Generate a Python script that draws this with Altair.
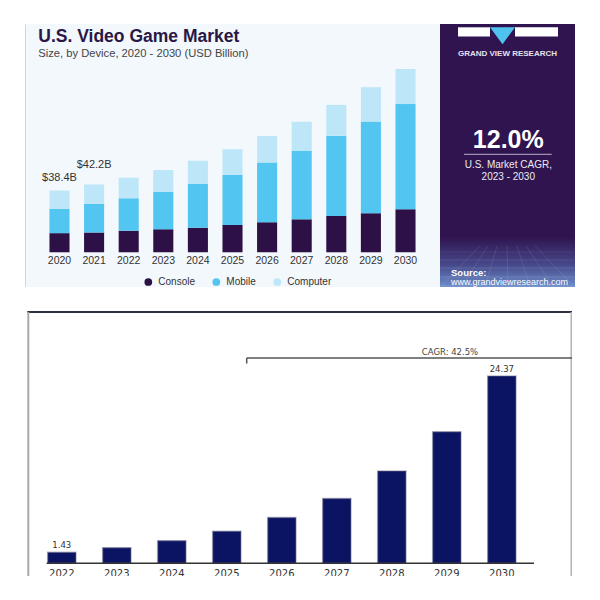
import altair as alt
import pandas as pd

# ---------------- data: top chart (U.S. video game market, USD billion) ----------------
years_top = ["2020", "2021", "2022", "2023", "2024", "2025", "2026", "2027", "2028", "2029", "2030"]
devices = ["Console", "Mobile", "Computer"]
console = [11.9, 12.3, 13.4, 14.3, 15.3, 17.0, 18.7, 20.5, 22.6, 24.3, 26.7]
mobile = [15.2, 17.9, 20.2, 23.4, 27.2, 31.1, 37.1, 42.5, 49.8, 57.0, 65.5]
computer = [11.3, 12.0, 12.8, 13.5, 14.5, 16.0, 16.6, 18.2, 19.3, 21.4, 21.8]
top_labels = ["$38.4B", "$42.2B"]          # shown above 2020 and 2021
device_colors = ["#2d1146", "#52c5f1", "#bde6f8"]

# ---------------- data: bottom chart ----------------
years_bottom = ["2022", "2023", "2024", "2025", "2026", "2027", "2028", "2029", "2030"]
values_bottom = [1.43, 2.04, 2.95, 4.16, 5.95, 8.42, 12.01, 17.13, 24.37]
bottom_labels = ["1.43", "", "", "", "", "", "", "", "24.37"]
cagr_text = "CAGR: 42.5%"

# ---------------- tables ----------------
rows = []
for i, yr in enumerate(years_top):
    for j, (d, v) in enumerate(zip(devices, [console[i], mobile[i], computer[i]])):
        rows.append({"year": yr, "device": d, "value": v, "ord": j})
df_top = pd.DataFrame(rows)
df_toplab = pd.DataFrame({
    "year": years_top[:2],
    "label": top_labels,
    "total": [round(console[i] + mobile[i] + computer[i], 2) for i in range(2)],
})
df_bot = pd.DataFrame({"year": years_bottom, "value": values_bottom, "label": bottom_labels})
one = pd.DataFrame({"k": [0]})

SANS = "Liberation Sans"

# ================= top-left: stacked bars =================
TW, TH = 415, 263
x_top = alt.X(
    "year:O",
    scale=alt.Scale(paddingInner=0.42, paddingOuter=0.707),
    axis=alt.Axis(orient="bottom", offset=-34.7, domain=False, ticks=False, tickSize=0,
                  labelPadding=3, labelFont=SANS, labelFontSize=10.5, labelColor="#333333",
                  labelAngle=0, title=None, grid=False),
)
y_top = alt.Y("value:Q", stack="zero",
              scale=alt.Scale(domain=[-21.6, 142.0], nice=False), axis=None)

bars_top = alt.Chart(df_top).mark_bar().encode(
    x=x_top,
    y=y_top,
    color=alt.Color(
        "device:N",
        scale=alt.Scale(domain=devices, range=device_colors),
        legend=alt.Legend(orient="none", legendX=118.3, legendY=253, direction="horizontal",
                          title=None, symbolType="circle", symbolSize=60, symbolStrokeWidth=0,
                          labelFont=SANS, labelFontSize=10, labelColor="#333333",
                          columnPadding=16, labelOffset=5, padding=0),
    ),
    order=alt.Order("ord:Q", sort="ascending"),
)

lab_2020 = alt.Chart(df_toplab).transform_filter(alt.datum.year == "2020").mark_text(
    font=SANS, fontSize=11, color="#333333", baseline="middle", dy=-12.7
).encode(x=alt.X("year:O"), y=alt.Y("total:Q"), text="label:N")
lab_2021 = alt.Chart(df_toplab).transform_filter(alt.datum.year == "2021").mark_text(
    font=SANS, fontSize=11, color="#333333", baseline="middle", dy=-19.4
).encode(x=alt.X("year:O"), y=alt.Y("total:Q"), text="label:N")

title_top = alt.Chart(one).mark_text(
    align="left", baseline="alphabetic", font=SANS, fontSize=17.5, fontWeight="bold", color="#2a1745"
).encode(x=alt.value(13.3), y=alt.value(17.7), text=alt.value("U.S. Video Game Market"))
subtitle_top = alt.Chart(one).mark_text(
    align="left", baseline="alphabetic", font=SANS, fontSize=11.2, color="#444444"
).encode(x=alt.value(13.3), y=alt.value(32.5),
         text=alt.value("Size, by Device, 2020 - 2030 (USD Billion)"))
left_edge = alt.Chart(one).mark_rule(color="#cfd5db", strokeWidth=1).encode(
    x=alt.value(0.5), y=alt.value(0.5), y2=alt.value(TH - 0.5))

top_left = alt.layer(left_edge, bars_top, lab_2020, lab_2021, title_top, subtitle_top).properties(
    width=TW, height=TH, view=alt.ViewBackground(fill="#f3f8fc", strokeWidth=0))

# ================= top-right: purple panel =================
PW, PH = 135, 263
pb = alt.Chart(one)
grad = alt.LinearGradient(
    gradient="linear",
    stops=[alt.GradientStop(color="#301450", offset=0),
           alt.GradientStop(color="#46488a", offset=0.55),
           alt.GradientStop(color="#6b8dc9", offset=1)],
    x1=0, x2=0, y1=0, y2=1,
)
panel_layers = [
    pb.mark_rect(color=grad).encode(x=alt.value(0), x2=alt.value(PW), y=alt.value(213), y2=alt.value(PH)),
]
for yy, op in [(228, 0.10), (236, 0.13), (244, 0.16), (253, 0.2), (262, 0.22)]:
    panel_layers.append(pb.mark_rule(color="#ffffff", strokeWidth=0.7, opacity=op).encode(
        x=alt.value(0.5), x2=alt.value(PW - 0.5), y=alt.value(yy)))
for xt_, xb_ in [(40, 1), (48, 22), (57, 45), (67, 68), (77, 90), (86, 113), (95, 134)]:
    panel_layers.append(pb.mark_rule(color="#ffffff", strokeWidth=0.7, opacity=0.14).encode(
        x=alt.value(xt_), x2=alt.value(xb_), y=alt.value(222), y2=alt.value(PH - 0.5)))
panel_layers += [
    pb.mark_rect(color="#ffffff").encode(x=alt.value(18), x2=alt.value(50), y=alt.value(3.3), y2=alt.value(12.5)),
    pb.mark_rect(color="#ffffff").encode(x=alt.value(75), x2=alt.value(118), y=alt.value(3.3), y2=alt.value(12.5)),
    pb.mark_point(shape="M-1,-0.68L1,-0.68L0,0.68Z", filled=True, color="#4fc3f0", size=625,
                  opacity=1, strokeWidth=0).encode(x=alt.value(62.5), y=alt.value(11.7)),
    pb.mark_text(font=SANS, fontSize=8, fontWeight="bold", color="#e4e2ec", baseline="middle").encode(
        x=alt.value(67.5), y=alt.value(30), text=alt.value("GRAND VIEW RESEARCH")),
    pb.mark_text(font=SANS, fontSize=25, fontWeight="bold", color="#ffffff", baseline="alphabetic").encode(
        x=alt.value(68.3), y=alt.value(124.3), text=alt.value("12.0%")),
    pb.mark_rule(color="#b9b1c9", strokeWidth=1).encode(
        x=alt.value(24), x2=alt.value(111.7), y=alt.value(130.3)),
    pb.mark_text(font=SANS, fontSize=10, color="#ecebf2", baseline="middle").encode(
        x=alt.value(68.3), y=alt.value(141), text=alt.value("U.S. Market CAGR,")),
    pb.mark_text(font=SANS, fontSize=10, color="#ecebf2", baseline="middle").encode(
        x=alt.value(68.3), y=alt.value(152.7), text=alt.value("2023 - 2030")),
    pb.mark_text(font=SANS, fontSize=9.5, fontWeight="bold", color="#ffffff", baseline="middle", align="left").encode(
        x=alt.value(11), y=alt.value(248.7), text=alt.value("Source:")),
    pb.mark_text(font=SANS, fontSize=9, color="#ffffff", baseline="middle", align="left").encode(
        x=alt.value(11), y=alt.value(258), text=alt.value("www.grandviewresearch.com")),
]
panel = alt.layer(*panel_layers).properties(
    width=PW, height=PH, view=alt.ViewBackground(fill="#301450", strokeWidth=0))

# ================= bottom chart =================
BW, BH = 547, 265
VERD = "DejaVu Sans"
xb = alt.X("year:O", scale=alt.Scale(paddingInner=0.485, paddingOuter=0.715, align=0.288), axis=None)
yb = alt.Y("value:Q", scale=alt.Scale(domain=[-1.652, 32.83], nice=False), axis=None)

bars_b = alt.Chart(df_bot).mark_bar(
    color="#0b1463", stroke="#6d6d85", strokeWidth=1.5, strokeOpacity=0.45
).encode(x=xb, y=yb)
vals_b = alt.Chart(df_bot).mark_text(
    font=VERD, fontSize=8.5, color="#333333", baseline="bottom", dy=-2
).encode(x=xb, y=yb, text="label:N")
years_b = alt.Chart(df_bot).mark_text(
    font=VERD, fontSize=10, color="#333333", baseline="top", clip=True
).encode(x=xb, y=alt.value(258), text="year:N")
base_b = alt.Chart(one).mark_rule(color="#333333", strokeWidth=1.5).encode(
    y=alt.datum(0), x=alt.value(21.7), x2=alt.value(509))
top_b = alt.Chart(one).mark_rule(color="#2b3142", strokeWidth=2).encode(
    x=alt.value(2.3), x2=alt.value(BW), y=alt.value(1))
left_b = alt.Chart(one).mark_rule(color="#a9a9a9", strokeWidth=2).encode(
    x=alt.value(3.3), y=alt.value(1), y2=alt.value(BH))
right_b = alt.Chart(one).mark_rule(color="#b3b3b3", strokeWidth=1.5).encode(
    x=alt.value(546.2), y=alt.value(1), y2=alt.value(BH))
br_h = alt.Chart(one).mark_rule(color="#555555", strokeWidth=1.5).encode(
    x=alt.value(221.7), x2=alt.value(BW), y=alt.value(47))
br_v = alt.Chart(one).mark_rule(color="#555555", strokeWidth=1.5).encode(
    x=alt.value(221.7), y=alt.value(47), y2=alt.value(52.5))
cagr = alt.Chart(one).mark_text(
    font=VERD, fontSize=8.5, color="#444444", baseline="middle"
).encode(x=alt.value(425), y=alt.value(40.7), text=alt.value(cagr_text))

bottom = alt.layer(bars_b, vals_b, years_b, base_b, top_b, left_b, right_b, br_h, br_v, cagr).properties(
    width=BW, height=BH, view=alt.ViewBackground(fill="#ffffff", strokeWidth=0))

# ================= assemble =================
top_row = alt.hconcat(top_left, panel, spacing=0)
chart = alt.vconcat(top_row, bottom, spacing=24).properties(
    padding={"left": 17, "top": 16, "right": 0, "bottom": 0},
    background="#ffffff",
).configure_view(strokeWidth=0)

chart.save("out.html", embed_options={"renderer": "svg", "actions": False})
